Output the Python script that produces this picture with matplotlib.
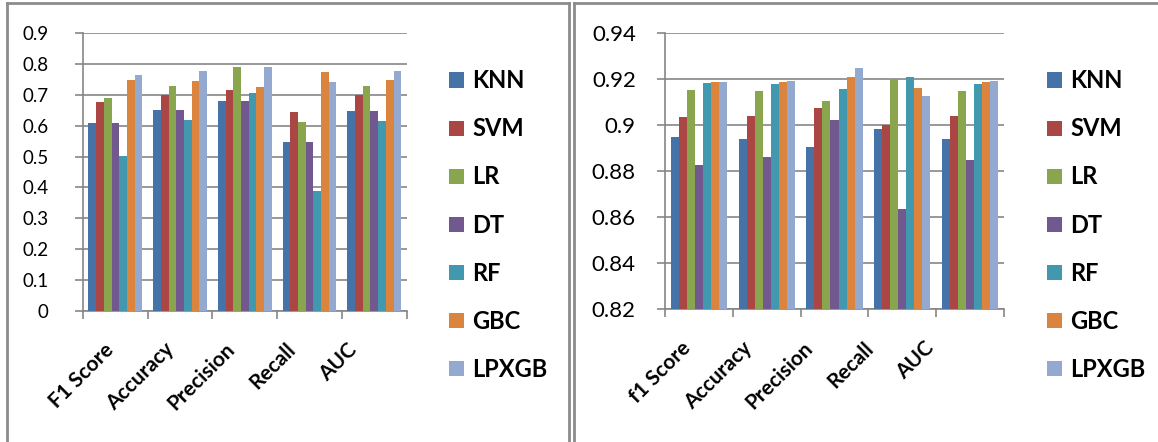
import numpy as np
import matplotlib
matplotlib.use('Agg')
import matplotlib.pyplot as plt
from matplotlib.lines import Line2D
from matplotlib.patches import Patch
from matplotlib.transforms import ScaledTranslation

plt.rcParams['font.family'] = ['Lato', 'DejaVu Sans']

models = ['KNN', 'SVM', 'LR', 'DT', 'RF', 'GBC', 'LPXGB']
colors = ['#4572A7', '#AA4643', '#89A54E', '#71588F', '#4198AF', '#DB843D', '#93A9CF']

metrics_left = ['F1 Score', 'Accuracy', 'Precision', 'Recall', 'AUC']
metrics_right = ['f1 Score', 'Accuracy', 'Precision', 'Recall', 'AUC']

# left chart: one list per model, values in metric order
knn_l = [0.608, 0.651, 0.680, 0.548, 0.649]
svm_l = [0.678, 0.699, 0.715, 0.645, 0.699]
lr_l = [0.690, 0.730, 0.791, 0.612, 0.728]
dt_l = [0.608, 0.651, 0.680, 0.548, 0.649]
rf_l = [0.502, 0.619, 0.706, 0.387, 0.614]
gbc_l = [0.750, 0.745, 0.727, 0.775, 0.747]
lpxgb_l = [0.766, 0.778, 0.792, 0.742, 0.777]

# right chart
knn_r = [0.8948, 0.8940, 0.8907, 0.8984, 0.8940]
svm_r = [0.9036, 0.9040, 0.9075, 0.9000, 0.9040]
lr_r = [0.9153, 0.9149, 0.9106, 0.9200, 0.9149]
dt_r = [0.8827, 0.8860, 0.9023, 0.8637, 0.8850]
rf_r = [0.9183, 0.9180, 0.9157, 0.9209, 0.9180]
gbc_r = [0.9187, 0.9190, 0.9212, 0.9164, 0.9190]
lpxgb_r = [0.9188, 0.9194, 0.9250, 0.9126, 0.9194]

left_vals = [knn_l, svm_l, lr_l, dt_l, rf_l, gbc_l, lpxgb_l]
right_vals = [knn_r, svm_r, lr_r, dt_r, rf_r, gbc_r, lpxgb_r]

W, H = 1158, 442
fig = plt.figure(figsize=(W / 100, H / 100), dpi=100)

def px_axes(x0, y0, x1, y1):
    return fig.add_axes([x0 / W, 1 - y1 / H, (x1 - x0) / W, (y1 - y0) / H])

grid_c = '#868686'

def draw(ax, cats, vals, ymin, ymax, step, fmt, tick_fs, tick_pad, dx0, dx_step, dy):
    n = len(cats)
    bw = 0.1186
    x = np.arange(n) + 0.5
    for i, (m, v) in enumerate(zip(models, vals)):
        off = (i - 3) * bw
        ax.bar(x + off, np.array(v) - ymin, bw, bottom=ymin, color=colors[i],
               edgecolor='none', label=m, zorder=3)
    ax.set_xlim(0, n)
    ax.set_ylim(ymin, ymax)
    ticks = np.arange(ymin, ymax + step / 2, step)
    ax.set_yticks(ticks)
    ax.set_yticklabels([fmt(t) for t in ticks], fontsize=tick_fs)
    ax.yaxis.grid(True, color=grid_c, linewidth=1.2, zorder=0)
    ax.set_axisbelow(True)
    for s in ['top', 'right']:
        ax.spines[s].set_visible(False)
    for s in ['left', 'bottom']:
        ax.spines[s].set_color(grid_c)
        ax.spines[s].set_linewidth(1.2)
    ax.tick_params(axis='y', length=6, color=grid_c, width=1.2, pad=tick_pad)
    ax.set_xticks(np.arange(n + 1))
    ax.set_xticklabels([])
    ax.tick_params(axis='x', length=6, color=grid_c, width=1.2)
    ax.set_xticks(x, minor=True)
    ax.set_xticklabels(cats, minor=True, rotation=45, ha='right', va='top',
                       rotation_mode='anchor', fontsize=15, fontweight='bold')
    ax.tick_params(axis='x', which='minor', length=0, pad=15)
    # Excel-like drift of the rotated labels to the left
    for i, lab in enumerate(ax.get_xticklabels(minor=True)):
        dx = (dx0 + dx_step * i) / 100
        lab.set_transform(lab.get_transform() +
                          ScaledTranslation(dx, dy / 100, fig.dpi_scale_trans))

def fmt_left(t):
    return '0' if abs(t) < 1e-9 else '%.1f' % t

def fmt_right(t):
    return ('%.2f' % t).rstrip('0')

ax1 = px_axes(83, 33.3, 406.7, 310.7)
draw(ax1, metrics_left, left_vals, 0.0, 0.9, 0.1, fmt_left, 13.5, 19, -12, -4, -8)
ax2 = px_axes(665, 33.3, 1004, 309.3)
draw(ax2, metrics_right, right_vals, 0.82, 0.94, 0.02, fmt_right, 16, 15, -18, -7, -8)

handles = [Patch(facecolor=c, edgecolor='none') for c in colors]
for lx in [440, 1038]:
    fig.legend(handles, models, loc='upper left',
               bbox_to_anchor=(lx / W, 1 - 60 / H), frameon=False,
               prop={'weight': 'bold', 'size': 17}, labelspacing=1.06,
               handlelength=0.62, handleheight=0.62, handletextpad=0.35,
               borderaxespad=0)

# panel frames
fc = '#8c8c8c'
def fline(xs, ys, lw=2):
    fig.add_artist(Line2D([x / W for x in xs], [1 - y / H for y in ys],
                          color=fc, linewidth=lw))

fline([7, 7], [3, 442])
fline([7, 569], [3, 3])
fline([569, 569], [3, 442])
fline([574, 574], [3, 442])
fline([574, 1158], [3, 3])

fig.savefig('out.png', dpi=100)
